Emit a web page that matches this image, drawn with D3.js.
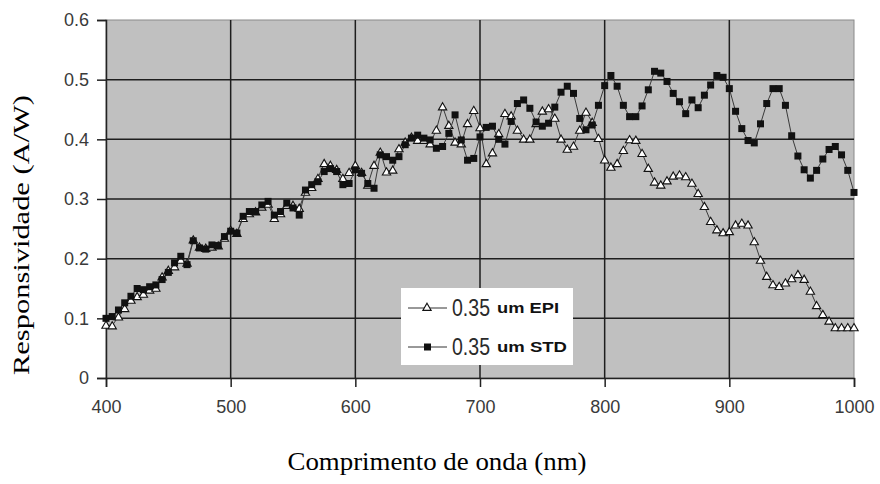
<!DOCTYPE html>
<html>
<head>
<meta charset="utf-8">
<script src="https://cdn.jsdelivr.net/npm/d3@7"></script>
<style>
  body { margin: 0; background: #fff; }
</style>
</head>
<body>
<div id="chart"></div>
<script>
// ─── Data ───
const wavelengths = d3.range(400, 1001, 5);

const epi = [
  0.089, 0.088, 0.103, 0.117, 0.131, 0.137, 0.141, 0.148, 0.151, 0.170,
  0.181, 0.187, 0.198, 0.193, 0.232, 0.220, 0.218, 0.220, 0.222, 0.235,
  0.248, 0.243, 0.268, 0.276, 0.279, 0.287, 0.292, 0.268, 0.276, 0.290,
  0.290, 0.285, 0.312, 0.320, 0.335, 0.360, 0.357, 0.350, 0.335, 0.345,
  0.357, 0.345, 0.324, 0.357, 0.379, 0.346, 0.349, 0.385, 0.396, 0.404,
  0.399, 0.399, 0.393, 0.416, 0.455, 0.424, 0.396, 0.393, 0.427, 0.449,
  0.420, 0.360, 0.378, 0.410, 0.444, 0.440, 0.416, 0.401, 0.401, 0.427,
  0.448, 0.452, 0.436, 0.401, 0.384, 0.389, 0.416, 0.446, 0.429, 0.402,
  0.366, 0.354, 0.360, 0.382, 0.400, 0.399, 0.377, 0.352, 0.329, 0.324,
  0.331, 0.339, 0.341, 0.338, 0.327, 0.310, 0.288, 0.263, 0.249, 0.244,
  0.246, 0.257, 0.260, 0.257, 0.229, 0.198, 0.171, 0.157, 0.154, 0.160,
  0.167, 0.174, 0.166, 0.146, 0.122, 0.107, 0.096, 0.085, 0.085, 0.085,
  0.085
];

const std = [
  0.100, 0.103, 0.114, 0.126, 0.137, 0.150, 0.148, 0.153, 0.156, 0.165,
  0.177, 0.193, 0.204, 0.190, 0.230, 0.218, 0.216, 0.223, 0.222, 0.237,
  0.246, 0.243, 0.271, 0.279, 0.279, 0.290, 0.296, 0.273, 0.279, 0.293,
  0.285, 0.273, 0.315, 0.324, 0.329, 0.346, 0.351, 0.346, 0.324, 0.326,
  0.349, 0.343, 0.326, 0.318, 0.374, 0.371, 0.365, 0.371, 0.391, 0.402,
  0.407, 0.402, 0.399, 0.385, 0.388, 0.410, 0.441, 0.399, 0.365, 0.368,
  0.404, 0.420, 0.422, 0.400, 0.392, 0.430, 0.460, 0.466, 0.452, 0.429,
  0.422, 0.427, 0.454, 0.479, 0.489, 0.477, 0.435, 0.416, 0.424, 0.457,
  0.490, 0.507, 0.489, 0.457, 0.438, 0.438, 0.456, 0.483, 0.514, 0.511,
  0.497, 0.477, 0.463, 0.443, 0.466, 0.453, 0.474, 0.491, 0.507, 0.504,
  0.485, 0.447, 0.418, 0.398, 0.394, 0.426, 0.460, 0.485, 0.485, 0.457,
  0.406, 0.372, 0.349, 0.335, 0.348, 0.367, 0.383, 0.388, 0.374, 0.348,
  0.311
];

const xTicks = [400, 500, 600, 700, 800, 900, 1000];
const yTicks = [0, 0.1, 0.2, 0.3, 0.4, 0.5, 0.6];
const seriesNames = ["0.35", "0.35"];
const seriesTags = ["um EPI", "um STD"];

// ─── Layout ───
const width = 880, height = 484;
const margin = { top: 20, right: 26, bottom: 106, left: 106 };
const innerW = width - margin.left - margin.right;
const innerH = height - margin.top - margin.bottom;

const svg = d3.select("#chart").append("svg")
  .attr("width", width).attr("height", height);

svg.append("rect").attr("width", width).attr("height", height).attr("fill", "#fff");

const g = svg.append("g").attr("transform", `translate(${margin.left},${margin.top})`);

const x = d3.scaleLinear().domain([400, 1000]).range([0, innerW]);
const y = d3.scaleLinear().domain([0, 0.6]).range([innerH, 0]);

// ─── Plot area ───
g.append("rect")
  .attr("width", innerW).attr("height", innerH)
  .attr("fill", "#c0c0c0")
  .attr("stroke", "#8a8a8a").attr("stroke-width", 1);

// gridlines
g.selectAll(".hgrid").data(yTicks.slice(1, -1)).enter().append("line")
  .attr("x1", 0).attr("x2", innerW)
  .attr("y1", d => y(d)).attr("y2", d => y(d))
  .attr("stroke", "#1e1e1e").attr("stroke-width", 1.5);

g.selectAll(".vgrid").data(xTicks.slice(1, -1)).enter().append("line")
  .attr("y1", 0).attr("y2", innerH)
  .attr("x1", d => x(d)).attr("x2", d => x(d))
  .attr("stroke", "#1e1e1e").attr("stroke-width", 1.5);

// ─── Axes ───
const xAxis = g.append("g")
  .attr("transform", `translate(0,${innerH})`)
  .call(d3.axisBottom(x).tickValues(xTicks).tickSize(9).tickPadding(13).tickFormat(d3.format("d")));

const yAxis = g.append("g")
  .call(d3.axisLeft(y).tickValues(yTicks).tickSize(9).tickPadding(8)
    .tickFormat(d => d === 0 ? "0" : d3.format(".1f")(d)));

[xAxis, yAxis].forEach(ax => {
  ax.select(".domain").attr("stroke", "#222").attr("stroke-width", 1.5);
  ax.selectAll(".tick line").attr("stroke", "#222").attr("stroke-width", 1.5);
  ax.selectAll(".tick text")
    .attr("fill", "#3a3a3a")
    .attr("font-family", "'Liberation Sans', Arial, sans-serif")
    .attr("font-size", 18);
});

// ─── Series ───
const line = d3.line().x((d, i) => x(wavelengths[i])).y(d => y(d));

g.append("path").datum(epi)
  .attr("d", line).attr("fill", "none")
  .attr("stroke", "#3a3a3a").attr("stroke-width", 1);

const tri = d3.symbol().type(d3.symbolTriangle).size(30);
g.selectAll(".epi").data(epi).enter().append("path")
  .attr("d", tri)
  .attr("transform", (d, i) => `translate(${x(wavelengths[i])},${y(d) + 1})`)
  .attr("fill", "#fff").attr("stroke", "#111").attr("stroke-width", 1.1);

g.append("path").datum(std)
  .attr("d", line).attr("fill", "none")
  .attr("stroke", "#3a3a3a").attr("stroke-width", 1);

g.selectAll(".std").data(std).enter().append("rect")
  .attr("x", (d, i) => x(wavelengths[i]) - 3.5)
  .attr("y", d => y(d) - 3.5)
  .attr("width", 7).attr("height", 7)
  .attr("fill", "#111");

// ─── Legend ───
const legend = svg.append("g").attr("transform", "translate(401,288)");
legend.append("rect").attr("width", 172).attr("height", 77).attr("fill", "#fff");

[0, 1].forEach(i => {
  const ly = 20 + i * 39;
  legend.append("line")
    .attr("x1", 7).attr("x2", 46).attr("y1", ly).attr("y2", ly)
    .attr("stroke", "#333").attr("stroke-width", 1);
  if (i === 0) {
    legend.append("path").attr("d", tri)
      .attr("transform", `translate(26,${ly})`)
      .attr("fill", "#fff").attr("stroke", "#111").attr("stroke-width", 1.1);
  } else {
    legend.append("rect").attr("x", 23).attr("y", ly - 3.5)
      .attr("width", 7).attr("height", 7).attr("fill", "#111");
  }
  legend.append("text")
    .attr("x", 51).attr("y", ly + 8)
    .attr("font-family", "'Liberation Sans', Arial, sans-serif")
    .attr("font-size", 23).attr("fill", "#2a2a2a")
    .attr("textLength", 38).attr("lengthAdjust", "spacingAndGlyphs")
    .text(seriesNames[i]);
  legend.append("text")
    .attr("x", 96).attr("y", ly + 5)
    .attr("font-family", "'Liberation Sans', Arial, sans-serif")
    .attr("font-weight", "bold")
    .attr("font-size", 14).attr("fill", "#111")
    .attr("textLength", i === 0 ? 62 : 70).attr("lengthAdjust", "spacingAndGlyphs")
    .text(seriesTags[i]);
});

// ─── Axis titles ───
svg.append("text")
  .attr("x", 437).attr("y", 470)
  .attr("text-anchor", "middle")
  .attr("font-family", "'Liberation Serif', 'Times New Roman', serif")
  .attr("font-size", 25).attr("fill", "#000")
  .attr("textLength", 299).attr("lengthAdjust", "spacingAndGlyphs")
  .text("Comprimento de onda (nm)");

svg.append("text")
  .attr("transform", "translate(29,235) rotate(-90)")
  .attr("text-anchor", "middle")
  .attr("font-family", "'Liberation Serif', 'Times New Roman', serif")
  .attr("font-size", 24).attr("fill", "#000")
  .attr("textLength", 280).attr("lengthAdjust", "spacingAndGlyphs")
  .text("Responsividade (A/W)");
</script>
</body>
</html>
